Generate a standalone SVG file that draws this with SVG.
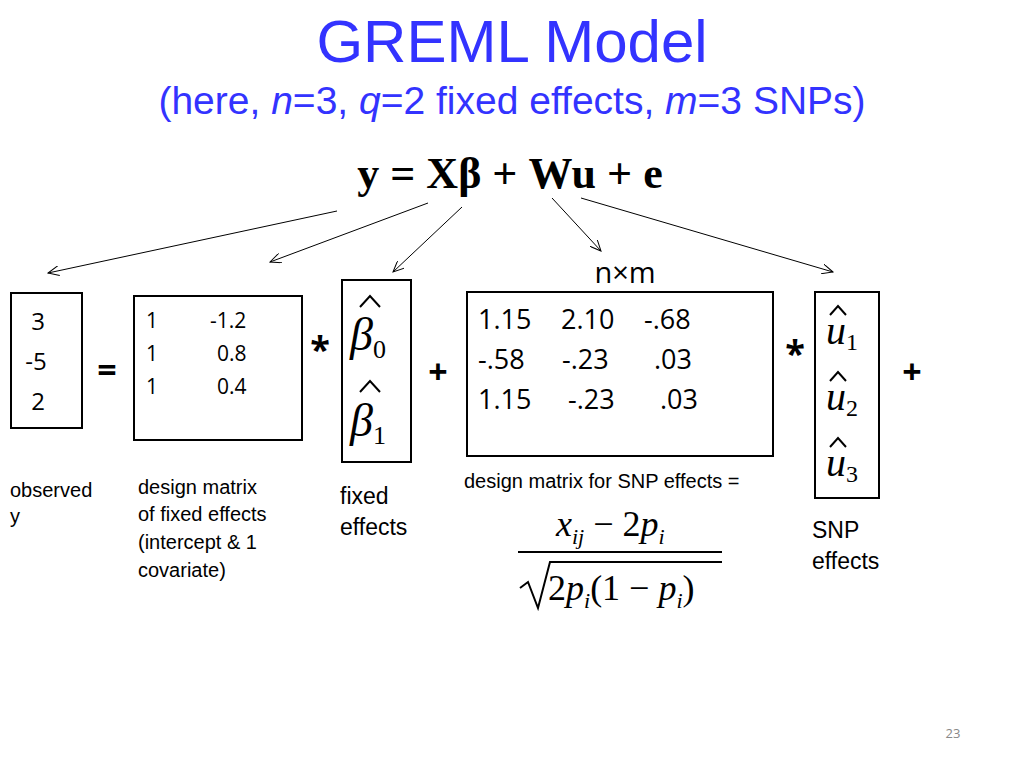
<svg xmlns="http://www.w3.org/2000/svg" width="1024" height="768" viewBox="0 0 1024 768">
<style>
.s{font-family:"Liberation Sans",Arial,sans-serif}
.c{font-family:"Open Sans","DejaVu Sans",sans-serif}
.m{font-family:"Liberation Serif","Times New Roman",serif}
.box{fill:none;stroke:#000;stroke-width:2}
.ar{stroke:#000;stroke-width:1;fill:none;marker-end:url(#a)}
.hat{fill:none;stroke:#000;stroke-width:2}
</style>
<defs><marker id="a" markerWidth="12" markerHeight="10" refX="11" refY="5" orient="auto" markerUnits="userSpaceOnUse"><path d="M0,0 L11,5 L0,10" fill="none" stroke="#000"/></marker></defs>
<rect width="1024" height="768" fill="#fff"/>
<text class="s" x="512" y="62" font-size="60" fill="#3333ff" text-anchor="middle">GREML Model</text>
<text class="s" x="512" y="114" font-size="39" fill="#3333ff" text-anchor="middle">(here, <tspan font-style="italic">n</tspan>=3, <tspan font-style="italic">q</tspan>=2 fixed effects, <tspan font-style="italic">m</tspan>=3 SNPs)</text>
<text class="m" x="510" y="188" font-size="44" font-weight="bold" text-anchor="middle">y = Xβ + Wu + e</text>
<g id="connectors">
<line class="ar" x1="337" y1="211" x2="48" y2="273"/>
<line class="ar" x1="428" y1="203" x2="270" y2="262"/>
<line class="ar" x1="462" y1="207" x2="393" y2="272"/>
<line class="ar" x1="552" y1="198" x2="601" y2="251"/>
<line class="ar" x1="581" y1="198" x2="833" y2="272"/>
</g>
<text class="c" x="625" y="283" font-size="29" text-anchor="middle">n×m</text>
<g id="y"><rect class="box" x="11" y="293" width="71" height="135"/>
<g class="c" font-size="24" text-anchor="middle"><text x="38" y="330">3</text><text x="36" y="370">-5</text><text x="38" y="410">2</text></g></g>
<text class="c" x="107" y="382" font-size="34" font-weight="bold" text-anchor="middle">=</text>
<g id="X"><rect class="box" x="134" y="296" width="168" height="144"/>
<g class="c" font-size="21"><text x="146" y="328">1</text><text x="210" y="328">-1.2</text><text x="146" y="361">1</text><text x="217" y="361">0.8</text><text x="146" y="394">1</text><text x="217" y="394">0.4</text></g></g>
<text class="c" x="320" y="362" font-size="36" font-weight="bold" text-anchor="middle">*</text>
<g id="beta"><rect class="box" x="342" y="280" width="69" height="182"/>
<path class="hat" d="M360,307 L370,296 L380,307 M360,392 L370,381 L380,392"/>
<g class="m" font-size="46" font-style="italic"><text x="350" y="350">β<tspan font-size="26" font-style="normal" dy="8">0</tspan></text><text x="350" y="436">β<tspan font-size="26" font-style="normal" dy="8">1</tspan></text></g></g>
<text class="c" x="438" y="384" font-size="34" font-weight="bold" text-anchor="middle">+</text>
<g id="W"><rect class="box" x="467" y="292" width="306" height="164"/>
<g class="c" font-size="27">
<text x="478" y="329">1.15</text><text x="561" y="329">2.10</text><text x="644" y="329">-.68</text>
<text x="478" y="369">-.58</text><text x="562" y="369">-.23</text><text x="654" y="369">.03</text>
<text x="478" y="409">1.15</text><text x="568" y="409">-.23</text><text x="660" y="409">.03</text></g></g>
<text class="c" x="795" y="366" font-size="36" font-weight="bold" text-anchor="middle">*</text>
<g id="u"><rect class="box" x="815" y="292" width="64" height="206"/>
<path class="hat" d="M830,315 L838,306 L846,315 M830,381 L838,372 L846,381 M830,447 L838,438 L846,447"/>
<g class="m" font-size="40" font-style="italic"><text x="826" y="344">u<tspan font-size="24" font-style="normal" dy="6">1</tspan></text><text x="826" y="410">u<tspan font-size="24" font-style="normal" dy="6">2</tspan></text><text x="826" y="476">u<tspan font-size="24" font-style="normal" dy="6">3</tspan></text></g></g>
<text class="c" x="912" y="384" font-size="34" font-weight="bold" text-anchor="middle">+</text>
<g class="s" font-size="20"><text x="10" y="497">observed</text><text x="10" y="523">y</text>
<text x="138" y="494">design matrix</text><text x="138" y="521">of fixed effects</text><text x="138" y="549">(intercept &amp; 1</text><text x="138" y="577">covariate)</text>
<text x="464" y="488">design matrix for SNP effects =</text></g>
<g class="s" font-size="23"><text x="340" y="504">fixed</text><text x="340" y="535">effects</text><text x="812" y="538">SNP</text><text x="812" y="569">effects</text></g>
<g id="formula" class="m" font-style="italic" font-size="36">
<text x="556" y="536">x<tspan font-size="22" dy="8">ij</tspan><tspan dy="-8" font-style="normal"> − 2</tspan>p<tspan font-size="22" dy="8">i</tspan></text>
<line x1="518" y1="552" x2="722" y2="552" stroke="#000" stroke-width="2"/>
<path d="M520,588 L528,582 L538,608 L550,562 L722,562" fill="none" stroke="#000" stroke-width="2"/>
<text x="548" y="600"><tspan font-style="normal">2</tspan>p<tspan font-size="22" dy="8">i</tspan><tspan dy="-8" font-style="normal">(1 − </tspan>p<tspan font-size="22" dy="8">i</tspan><tspan dy="-8" font-style="normal">)</tspan></text>
</g>
<text class="c" x="953" y="738" font-size="13" fill="#888" text-anchor="middle">23</text>
</svg>
